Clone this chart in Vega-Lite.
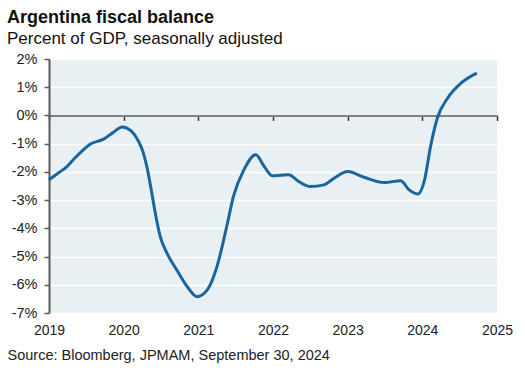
{
  "$schema": "https://vega.github.io/schema/vega-lite/v6.json",
  "width": 448,
  "height": 254,
  "autosize": {"type": "none"},
  "padding": {"left": 49, "top": 59, "right": 28, "bottom": 67},
  "background": "white",
  "config": {
    "font": "Liberation Sans",
    "view": {"fill": "#e8f0f3", "stroke": null},
    "axis": {"labelFont": "Liberation Sans", "labelFontSize": 14, "labelColor": "#222222", "titleFont": "Liberation Sans", "labelOverlap": false, "labelFlush": false}
  },
  "title": {
    "text": "Argentina fiscal balance",
    "subtitle": "Percent of GDP, seasonally adjusted",
    "anchor": "start",
    "frame": "group",
    "dx": -42,
    "offset": 4,
    "font": "Liberation Sans",
    "fontSize": 18,
    "fontWeight": "bold",
    "color": "#111111",
    "subtitleFont": "Liberation Sans",
    "subtitleFontSize": 17,
    "subtitleColor": "#111111",
    "subtitlePadding": 4
  },
  "data": {
    "values": [
      {"year": 2019.0, "value": -2.28},
      {"year": 2019.12, "value": -2.05},
      {"year": 2019.24, "value": -1.81},
      {"year": 2019.35, "value": -1.5},
      {"year": 2019.46, "value": -1.22},
      {"year": 2019.55, "value": -1.02},
      {"year": 2019.73, "value": -0.84},
      {"year": 2019.86, "value": -0.6},
      {"year": 2019.98, "value": -0.41},
      {"year": 2020.1, "value": -0.55},
      {"year": 2020.2, "value": -0.92},
      {"year": 2020.26, "value": -1.3},
      {"year": 2020.31, "value": -1.81},
      {"year": 2020.36, "value": -2.5},
      {"year": 2020.4, "value": -3.11},
      {"year": 2020.49, "value": -4.29},
      {"year": 2020.58, "value": -4.88},
      {"year": 2020.71, "value": -5.47},
      {"year": 2020.85, "value": -6.06},
      {"year": 2020.98, "value": -6.42},
      {"year": 2021.12, "value": -6.18},
      {"year": 2021.25, "value": -5.35},
      {"year": 2021.39, "value": -3.82},
      {"year": 2021.47, "value": -2.87},
      {"year": 2021.61, "value": -1.93},
      {"year": 2021.77, "value": -1.39},
      {"year": 2021.88, "value": -1.8},
      {"year": 2021.99, "value": -2.14},
      {"year": 2022.1, "value": -2.12},
      {"year": 2022.21, "value": -2.1},
      {"year": 2022.35, "value": -2.35},
      {"year": 2022.5, "value": -2.52},
      {"year": 2022.68, "value": -2.46},
      {"year": 2022.82, "value": -2.22},
      {"year": 2023.0, "value": -1.99},
      {"year": 2023.22, "value": -2.19},
      {"year": 2023.49, "value": -2.38},
      {"year": 2023.71, "value": -2.31},
      {"year": 2023.82, "value": -2.63},
      {"year": 2023.94, "value": -2.78},
      {"year": 2024.03, "value": -2.28},
      {"year": 2024.11, "value": -1.1},
      {"year": 2024.2, "value": -0.1},
      {"year": 2024.34, "value": 0.62},
      {"year": 2024.52, "value": 1.15},
      {"year": 2024.73, "value": 1.5}
    ]
  },
  "layer": [
    {
      "mark": {"type": "line", "strokeOpacity": 0, "interpolate": "monotone"},
      "encoding": {
        "x": {
          "field": "year", "type": "quantitative",
          "scale": {"domain": [2019, 2025], "nice": false, "zero": false},
          "axis": {
            "orient": "top", "offset": -56.4, "values": [2019, 2020, 2021, 2022, 2023, 2024, 2025],
            "tickCount": 20,
            "labels": false, "grid": false, "title": null,
            "domainColor": "#7f7f7f", "domainWidth": 2,
            "tickSize": -5, "tickColor": "#333333", "tickWidth": 1.5
          }
        },
        "y": {
          "field": "value", "type": "quantitative",
          "scale": {"domain": [-7, 2], "nice": false, "zero": false},
          "axis": {
            "values": [-7, -6, -5, -4, -3, -2, -1, 0, 1, 2],
            "tickCount": 20,
            "labelExpr": "datum.value + '%'",
            "labelFontSize": 14.5,
            "title": null, "grid": true, "gridColor": "white", "gridWidth": 1.5,
            "domainColor": "#595959", "domainWidth": 2,
            "tickColor": "#595959", "tickSize": 5, "tickWidth": 1.5,
            "labelPadding": 7
          }
        }
      }
    },
    {
      "mark": {"type": "line", "color": "#1865a0", "strokeWidth": 3, "interpolate": "monotone"},
      "encoding": {
        "x": {
          "field": "year", "type": "quantitative",
          "axis": {
            "orient": "bottom", "values": [2019, 2020, 2021, 2022, 2023, 2024, 2025],
            "tickCount": 20,
            "format": "d", "domain": false, "ticks": false, "grid": false,
            "labelPadding": 10,
            "title": "Source: Bloomberg, JPMAM, September 30, 2024",
            "titleX": -42, "titleY": 46, "titleAlign": "left", "titleBaseline": "alphabetic",
            "titleFontSize": 14.5, "titleFontWeight": "normal", "titleColor": "#222222"
          }
        },
        "y": {"field": "value", "type": "quantitative"}
      }
    }
  ],
  "resolve": {"axis": {"x": "independent"}}
}
